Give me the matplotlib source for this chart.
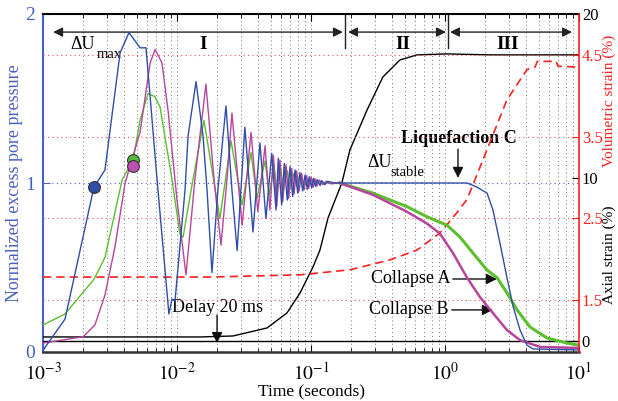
import matplotlib
matplotlib.use("Agg")
import matplotlib.pyplot as plt
import numpy as np

plt.rcParams['font.family'] = ['Liberation Serif', 'DejaVu Serif']
plt.rcParams['mathtext.fontset'] = 'stix'

# ---------------- data ----------------
blue_t = [0.001, 0.00146, 0.0024, 0.0029, 0.00376, 0.00438, 0.0053, 0.00587, 0.0071, 0.0087,
          0.00918, 0.00966, 0.01148, 0.0121, 0.01387, 0.01563, 0.01675, 0.01824, 0.0202, 0.0232,
          0.0257, 0.0281, 0.0321, 0.0369, 0.0416, 0.0461, 0.0509, 0.0548, 0.0570, 0.0604,
          0.0632, 0.0665, 0.0697, 0.0730, 0.0760, 0.0796, 0.0828, 0.0867, 0.0902, 0.0938,
          0.0970, 0.101, 0.104, 0.108, 0.111, 0.117, 0.120, 0.127, 0.133, 0.15,
          0.18, 0.5, 1.0, 1.46, 1.73, 2.06, 2.28, 2.57, 2.90, 3.22,
          3.63, 4.09, 4.54, 10.0]
blue_u = [0.01, 0.195, 0.976, 1.077, 1.77, 1.89, 1.80, 1.80, 1.02, 0.225,
          0.314, 0.30, 0.96, 1.28, 1.60, 1.28, 0.96, 0.47, 0.96, 1.456,
          0.96, 0.60, 1.33, 0.71, 1.237, 0.79, 1.176, 0.84, 1.146, 0.87,
          1.116, 0.899, 1.097, 0.92, 1.077, 0.94, 1.061, 0.953, 1.047, 0.963,
          1.037, 0.973, 1.027, 0.98, 1.02, 0.985, 1.015, 0.99, 1.01, 1.0,
          1.0, 1.0, 1.0, 1.0, 0.976, 0.94, 0.84, 0.645, 0.44, 0.27,
          0.13, 0.04, 0.018, 0.012]

mag_t = [0.001, 0.00199, 0.00244, 0.0029, 0.00344, 0.0041, 0.0053, 0.0063, 0.00686, 0.00773,
         0.00857, 0.0100, 0.01167, 0.0136, 0.01644, 0.0189, 0.0213, 0.0236, 0.0257, 0.0306,
         0.0357, 0.0401, 0.0454, 0.0494, 0.0524, 0.0555, 0.0587, 0.0615, 0.0651, 0.0682,
         0.0718, 0.0746, 0.0782, 0.0813, 0.0852, 0.0887, 0.0929, 0.0961, 0.100, 0.1035,
         0.107, 0.111, 0.115, 0.122, 0.13, 0.14, 0.164, 0.29, 0.52, 0.734,
         0.918, 1.148, 1.46, 1.824, 2.28, 2.90, 3.63, 5.12, 10.0]
mag_u = [0.053, 0.09, 0.16, 0.337, 0.62, 1.0, 1.30, 1.71, 1.79, 1.71,
         1.43, 0.90, 0.456, 1.02, 1.585, 1.02, 0.633, 1.02, 1.414, 0.75,
         1.30, 0.83, 1.22, 0.84, 1.166, 0.86, 1.136, 0.89, 1.107, 0.909,
         1.087, 0.933, 1.071, 0.949, 1.057, 0.959, 1.045, 0.968, 1.036, 0.974,
         1.026, 0.982, 1.018, 0.99, 1.01, 0.995, 1.0, 0.93, 0.83, 0.76,
         0.70, 0.585, 0.44, 0.325, 0.23, 0.13, 0.07, 0.03, 0.024]

grn_t = [0.001, 0.00146, 0.0024, 0.0029, 0.0039, 0.0047, 0.0053, 0.00608, 0.00686, 0.00747,
         0.00918, 0.0105, 0.0111, 0.01315, 0.0159, 0.0209, 0.0253, 0.0306, 0.0357, 0.0395,
         0.0454, 0.0489, 0.053, 0.0555, 0.0594, 0.0621, 0.0665, 0.0697, 0.0746, 0.0782,
         0.0828, 0.09, 0.10, 0.11, 0.164, 0.29, 0.52, 0.734, 1.036, 1.294,
         1.618, 2.057, 2.443, 2.901, 3.444, 4.31, 5.771, 8.136, 10.0]
grn_u = [0.16, 0.225, 0.43, 0.56, 1.02, 1.136, 1.37, 1.53, 1.51, 1.45,
         1.02, 0.70, 0.68, 1.02, 1.37, 0.79, 1.25, 0.87, 1.18, 0.91,
         1.13, 0.93, 1.107, 0.949, 1.087, 0.962, 1.073, 0.975, 1.057, 0.982,
         1.047, 0.99, 1.02, 1.0, 1.0, 0.94, 0.86, 0.80, 0.75, 0.68,
         0.585, 0.485, 0.44, 0.35, 0.25, 0.148, 0.083, 0.053, 0.04]

axial_t = [0.001, 0.0149, 0.0262, 0.047, 0.0662, 0.0828, 0.1035, 0.1167, 0.134, 0.170,
           0.195, 0.262, 0.344, 0.461, 0.618, 1.035, 2.17, 10.0]
axial_v = [0.25, 0.25, 0.31, 0.80, 1.72, 2.94, 4.53, 5.57, 7.53, 9.67,
           11.68, 14.13, 16.15, 17.19, 17.50, 17.56, 17.5, 17.5]

vol_t = [0.001, 0.0186, 0.0828, 0.195, 0.389, 0.618, 0.918, 1.23, 1.46, 2.06,
         2.90, 4.09, 4.70, 4.88, 6.73, 6.97, 10.0]
vol_v = [1.78, 1.78, 1.807, 1.868, 1.99, 2.11, 2.32, 2.57, 2.73, 3.34,
         3.95, 4.32, 4.35, 4.42, 4.42, 4.36, 4.35]

circ_t = [0.0024, 0.0047, 0.0047]
circ_u = [0.976, 1.136, 1.10]
circ_colors = ['#2f4ea8', '#5cb83c', '#c050b0']

x_ticks = [1e-3, 1e-2, 1e-1, 1e0, 1e1]
x_labels = [r'$10^{-3}$', r'$10^{-2}$', r'$10^{-1}$', r'$10^{0}$', r'$10^{1}$']
u_ticks = [0, 1, 2]
axial_ticks = [0, 10, 20]
vol_ticks = [1.5, 2.5, 3.5, 4.5]
stage_bounds = [0.18, 1.05]

# ---------------- styles ----------------
BLUE = '#2f4ea8'
GREEN = '#5cbf2e'
MAG = '#b8449e'
RED = '#ff2020'
LBLUE = '#4a60c0'

fig = plt.figure(figsize=(6.18, 4.01), dpi=100)
ax = fig.add_axes([43/618, 49/401, 536/618, 338/401])
ax2 = ax.twinx()
ax3 = ax.twinx()

ax.set_xscale('log')
ax.set_xlim(1e-3, 10)
ax.set_ylim(0, 2)
ax2.set_ylim(-0.67, 20)
ax3.set_ylim(0.862, 5.0)

# grid
ax.grid(True, which='both', axis='x', linestyle=(0, (1, 3)), color='#777777', lw=0.7)
ax.axhline(1, color=LBLUE, ls=(0, (1, 3)), lw=0.8, zorder=0.5)
for v in vol_ticks:
    ax3.axhline(v, color='#ff5050', ls=(0, (1, 3)), lw=0.8, zorder=0.5)

# axial strain curve and zero line
ax2.axhline(0, color='black', lw=1.0)
ax2.plot(axial_t, axial_v, color='black', lw=1.0)
# volumetric strain
ax3.plot(vol_t, vol_v, color=RED, lw=1.2, ls=(0, (5, 3)))

# pore pressure curves
bt = np.array(blue_t); bu = np.array(blue_u)
gt = np.array(grn_t); gu = np.array(grn_u)
mt = np.array(mag_t); mu = np.array(mag_u)
line_kw = dict(transform=ax.transData)
ax3.plot(gt[gt <= 0.164], gu[gt <= 0.164], color=GREEN, lw=1.0, **line_kw)
ax3.plot(gt[gt >= 0.164], gu[gt >= 0.164], color=GREEN, lw=2.2, **line_kw)
ax3.plot(mt[mt <= 0.164], mu[mt <= 0.164], color=MAG, lw=1.0, **line_kw)
ax3.plot(mt[mt >= 0.164], mu[mt >= 0.164], color=MAG, lw=1.8, **line_kw)
ax3.plot(bt, bu, color=BLUE, lw=1.0, **line_kw)
for t, u, c in zip(circ_t, circ_u, circ_colors):
    ax3.plot([t], [u], 'o', ms=8.5, mfc=c, mec='#333333', mew=0.8, zorder=5, **line_kw)

# ticks
ax.set_xticks(x_ticks)
ax.set_xticklabels(x_labels, fontsize=14)
ax.tick_params(axis='x', which='both', direction='in', top=True, pad=7)
ax.tick_params(axis='x', which='major', length=5)
ax.tick_params(axis='x', which='minor', length=3)
ax.set_yticks(u_ticks)
ax.set_yticklabels([str(u) for u in u_ticks], fontsize=14, color=LBLUE)
ax.tick_params(axis='y', direction='in', length=5, color=LBLUE, pad=6)

ax2.set_yticks(axial_ticks)
ax2.set_yticklabels([str(a) for a in axial_ticks], fontsize=12)
ax2.tick_params(axis='y', direction='in', length=5, pad=2)
ax3.set_yticks(vol_ticks)
ax3.set_yticklabels([str(v) for v in vol_ticks], fontsize=12, color=RED)
ax3.tick_params(axis='y', direction='in', length=5, color=RED, pad=2)

for a in (ax, ax2, ax3):
    for s in a.spines.values():
        s.set_visible(False)
ax.spines['left'].set_visible(True)
ax.spines['left'].set_color(LBLUE)
ax.spines['left'].set_linewidth(1.5)
ax.spines['top'].set_visible(True)
ax.spines['top'].set_linewidth(1.5)
ax.spines['bottom'].set_visible(True)
ax.spines['bottom'].set_linewidth(1.8)
ax.spines['bottom'].set_color('#333333')
ax3.spines['right'].set_visible(True)
ax3.spines['right'].set_color(RED)
ax3.spines['right'].set_linewidth(1.2)

# labels
ax.set_xlabel('Time (seconds)', fontsize=12.5, labelpad=0)
fig.text(15/618, 1 - 183/401, 'Normalized excess pore pressure', rotation=90,
         ha='center', va='center', fontsize=13, color=LBLUE)
fig.text(609.5/618, 1 - 101/401, 'Volumetric strain (%)', rotation=90,
         ha='center', va='center', fontsize=11, color=RED)
fig.text(609.5/618, 1 - 255/401, 'Axial strain (%)', rotation=90,
         ha='center', va='center', fontsize=11, color='black')

# stage arrows
arr_y = 1.893
akw = dict(arrowstyle='<|-|>', color='#222222', lw=1.0, mutation_scale=14, shrinkA=0, shrinkB=0)
ax.annotate('', xy=(1.19e-3, arr_y), xytext=(0.173, arr_y), arrowprops=akw)
ax.annotate('', xy=(0.189, arr_y), xytext=(1.016, arr_y), arrowprops=akw)
ax.annotate('', xy=(1.089, arr_y), xytext=(8.87, arr_y), arrowprops=akw)
for b in stage_bounds:
    ax.plot([b, b], [2.0, 1.80], color='#222222', lw=1.0)
ax.text(0.0156, 1.82, 'I', fontsize=14, fontweight='bold', ha='center', va='center')
ax.text(0.486, 1.82, 'II', fontsize=14, fontweight='bold', ha='center', va='center')
ax.text(2.95, 1.82, 'III', fontsize=14, fontweight='bold', ha='center', va='center')

# Delta U labels
ax.text(1.59e-3, 1.82, '\u0394U', fontsize=13, ha='left', va='center')
ax.text(2.5e-3, 1.76, 'max', fontsize=10.5, ha='left', va='center')
ax.text(0.262, 1.124, '\u0394U', fontsize=13, ha='left', va='center')
ax.text(0.39, 1.062, 'stable', fontsize=10.5, ha='left', va='center')

# annotations
hk = dict(arrowstyle='-|>', color='#111111', lw=1.0, mutation_scale=16, shrinkA=0, shrinkB=0)
ax.text(1.27, 1.266, 'Liquefaction C', fontsize=13, fontweight='bold', ha='center', va='center')
ax.annotate('', xy=(1.25, 1.03), xytext=(1.25, 1.20), arrowprops=hk)
ax.annotate('Collapse A', xy=(2.44, 0.432), xytext=(1.09, 0.432), fontsize=13,
            ha='right', va='center', arrowprops=hk)
ax.annotate('Collapse B', xy=(2.28, 0.249), xytext=(1.07, 0.249), fontsize=13,
            ha='right', va='center', arrowprops=hk)
ax.text(0.0199, 0.266, 'Delay 20 ms', fontsize=13, ha='center', va='center')
ax.annotate('', xy=(0.0199, 0.053), xytext=(0.0199, 0.219), arrowprops=hk)

fig.savefig('out.png', dpi=100)
